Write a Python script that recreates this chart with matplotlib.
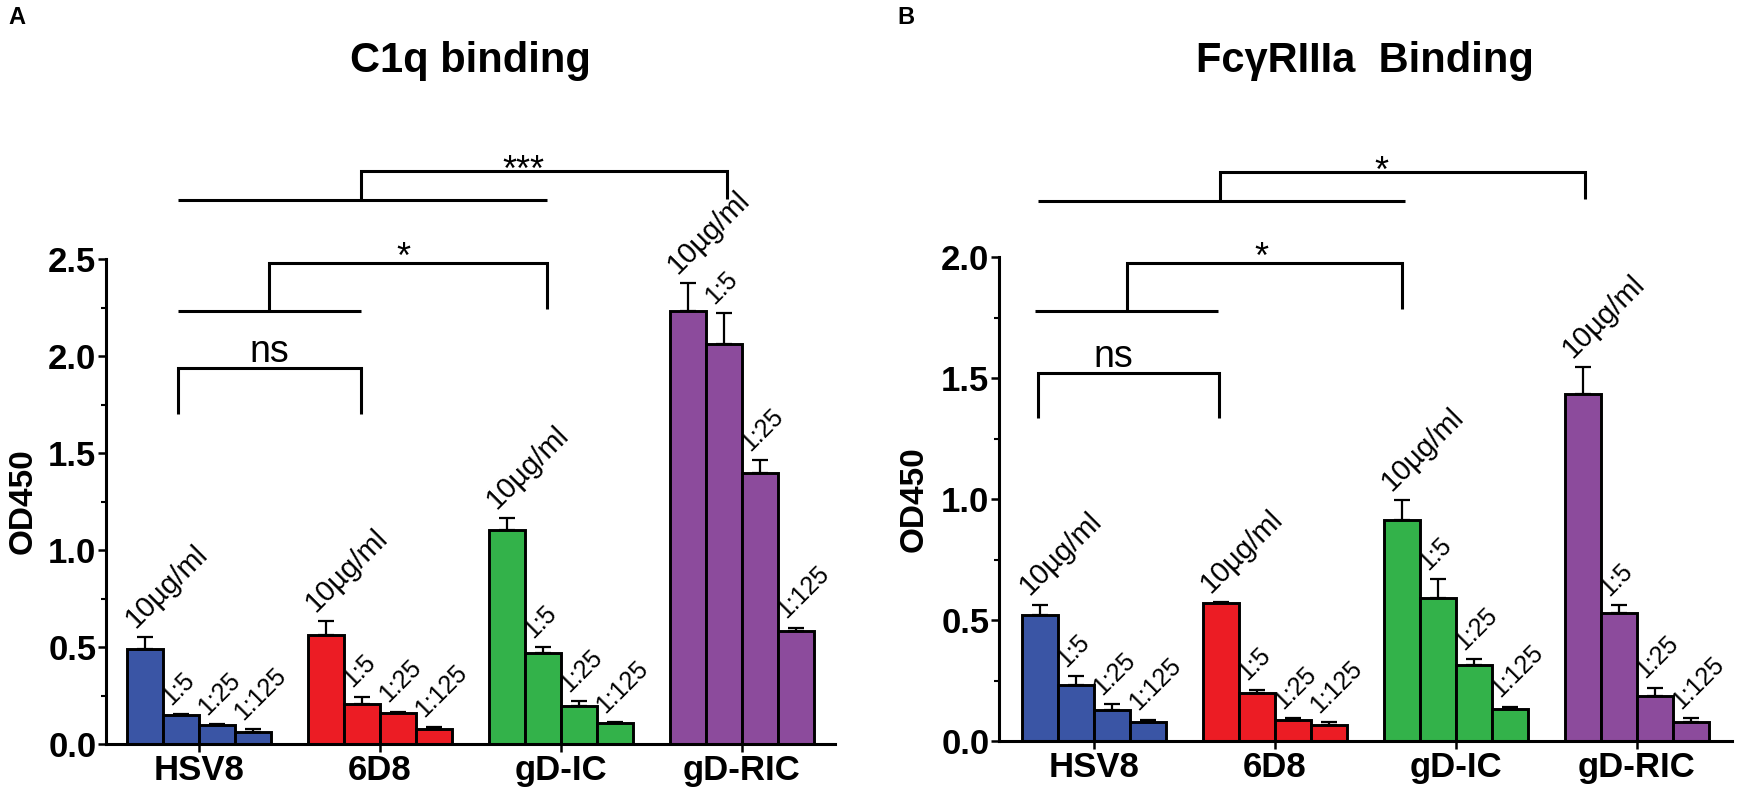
import matplotlib
matplotlib.use("Agg")
import matplotlib.pyplot as plt
import numpy as np

plt.rcParams["font.family"] = ["Liberation Sans", "DejaVu Sans"]

# ---------------------------------------------------------------- data
groups = ["HSV8", "6D8", "gD-IC", "gD-RIC"]
dilutions = ["10µg/ml", "1:5", "1:25", "1:125"]
colors = ["#3a55a5", "#ec1c24", "#33b24a", "#8c4b9c"]

c1q_mean = [
    [0.490, 0.149, 0.098, 0.062],
    [0.562, 0.204, 0.158, 0.077],
    [1.103, 0.467, 0.196, 0.107],
    [2.232, 2.062, 1.397, 0.580],
]
c1q_err = [
    [0.063, 0.006, 0.005, 0.015],
    [0.072, 0.040, 0.009, 0.012],
    [0.064, 0.031, 0.026, 0.005],
    [0.144, 0.158, 0.067, 0.020],
]

fc_mean = [
    [0.519, 0.230, 0.129, 0.078],
    [0.571, 0.198, 0.088, 0.067],
    [0.913, 0.591, 0.312, 0.131],
    [1.434, 0.529, 0.185, 0.080],
]
fc_err = [
    [0.045, 0.037, 0.022, 0.010],
    [0.004, 0.014, 0.006, 0.010],
    [0.083, 0.079, 0.025, 0.011],
    [0.111, 0.033, 0.035, 0.015],
]

BAR_W = 0.2
LW = 2.1


def draw_bars(ax, means, errs):
    for g, (m, e) in enumerate(zip(means, errs)):
        x = g + (np.arange(4) - 1.5) * BAR_W
        m = np.array(m)
        e = np.array(e)
        ax.bar(x, m, width=BAR_W, color=colors[g], edgecolor="black",
               linewidth=LW, zorder=2)
        ax.errorbar(x, m, yerr=[np.zeros(4), e], fmt="none", ecolor="black",
                    elinewidth=1.6, capsize=6, capthick=1.6, zorder=3)
        for i in range(4):
            size = 21 if i == 0 else 18
            ax.annotate(dilutions[i], xy=(x[i], m[i] + e[i]),
                        xytext=(-7, 6), textcoords="offset points",
                        rotation=45, rotation_mode="anchor",
                        ha="left", va="baseline", fontsize=size,
                        annotation_clip=False)


def style_axes(ax, ymax, xlim):
    ax.set_xlim(*xlim)
    ax.set_ylim(0, ymax)
    ax.spines["top"].set_visible(False)
    ax.spines["right"].set_visible(False)
    ax.spines["left"].set_linewidth(2.2)
    ax.spines["bottom"].set_linewidth(2.2)
    ax.set_xticks(range(4))
    ax.set_xticklabels(groups, fontsize=25, fontweight="bold")
    ticks = np.arange(0, ymax + 0.01, 0.5)
    ax.set_yticks(ticks)
    ax.set_yticklabels([f"{v:.1f}" for v in ticks],
                       fontsize=25, fontweight="bold")
    ax.set_yticks(np.arange(0.25, ymax, 0.5), minor=True)
    ax.tick_params(axis="both", which="major", length=6, width=1.8, pad=1)
    ax.tick_params(axis="y", which="minor", length=3.5, width=1.5)
    ax.set_ylabel("OD450", fontsize=24, fontweight="bold")


def line(ax, xs, ys):
    ax.plot(xs, ys, color="black", lw=2.2, clip_on=False,
            solid_capstyle="butt", solid_joinstyle="miter", zorder=4)


def bracket(ax, a, b, y, bottom):
    line(ax, [a, a, b, b], [bottom, y, y, bottom])


def nested(ax, a, b, y0, mid, c, y1, leg):
    line(ax, [a, b], [y0, y0])
    line(ax, [mid, mid, c, c], [y0, y1, y1, leg])


fig = plt.figure(figsize=(17.45, 7.97), dpi=100)
ax1 = fig.add_axes([106 / 1745, 53 / 797, 729 / 1745, 485 / 797])
ax2 = fig.add_axes([999 / 1745, 56 / 797, 733 / 1745, 484 / 797])

# ---------------------------------------------------------------- panel A
draw_bars(ax1, c1q_mean, c1q_err)
style_axes(ax1, 2.5, (-0.514, 3.514))
ax1.yaxis.set_label_coords(-0.093, 0.5)
bracket(ax1, -0.116, 0.895, 1.938, 1.70)
ax1.text(0.387, 1.97, "ns", fontsize=27, ha="center", va="baseline")
nested(ax1, -0.116, 0.895, 2.232, 0.387, 1.923, 2.479, 2.242)
ax1.text(1.127, 2.454, "*", fontsize=26, ha="center", va="baseline")
nested(ax1, -0.116, 1.923, 2.804, 0.895, 2.917, 2.954, 2.81)
ax1.text(1.79, 2.90, "***", fontsize=26, ha="center", va="baseline")

# ---------------------------------------------------------------- panel B
draw_bars(ax2, fc_mean, fc_err)
style_axes(ax2, 2.0, (-0.525, 3.525))
ax2.yaxis.set_label_coords(-0.094, 0.5)
bracket(ax2, -0.31, 0.69, 1.521, 1.335)
ax2.text(0.105, 1.545, "ns", fontsize=27, ha="center", va="baseline")
nested(ax2, -0.326, 0.685, 1.777, 0.182, 1.70, 1.975, 1.785)
ax2.text(0.923, 1.955, "*", fontsize=26, ha="center", va="baseline")
nested(ax2, -0.31, 1.718, 2.231, 0.696, 2.713, 2.351, 2.24)
ax2.text(1.586, 2.31, "*", fontsize=26, ha="center", va="baseline")

# ---------------------------------------------------------------- titles
fig.text(470 / 1745, 1 - 72 / 797, "C1q binding", fontsize=30,
         fontweight="bold", ha="center", va="baseline")
fig.text(1365 / 1745, 1 - 72 / 797, "FcγRIIIa  Binding", fontsize=30,
         fontweight="bold", ha="center", va="baseline")
fig.text(8 / 1745, 1 - 24 / 797, "A", fontsize=17, fontweight="bold",
         va="baseline")
fig.text(897 / 1745, 1 - 24 / 797, "B", fontsize=17, fontweight="bold",
         va="baseline")

fig.savefig("out.png", dpi=100)
